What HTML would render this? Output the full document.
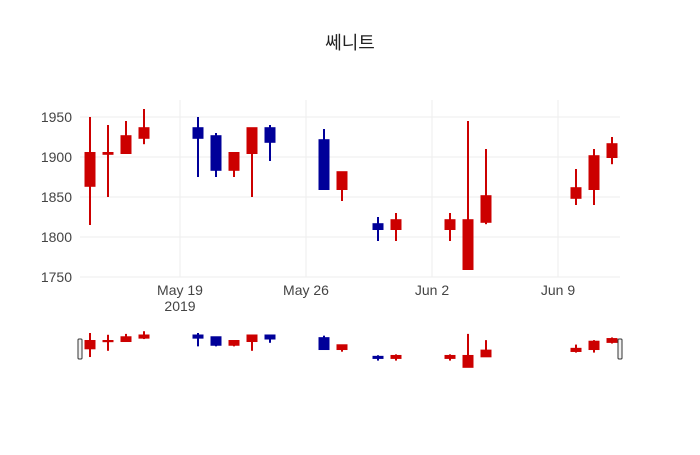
<!DOCTYPE html>
<html><head><meta charset="utf-8"><style>
body{margin:0;background:#fff;font-family:"Liberation Sans","Noto Sans CJK KR",sans-serif;}
svg text{font-family:"Liberation Sans","Noto Sans CJK KR",sans-serif;}
</style></head><body>
<svg id="chart" width="700" height="450" xmlns="http://www.w3.org/2000/svg">
<rect width="700" height="450" fill="#fff"/>
<text x="350" y="49" text-anchor="middle" font-size="18" fill="#222">쎄니트</text>
<g id="grid"></g><g id="axes"></g><g id="marks"></g><g id="slider"></g>
</svg>
<script>
const dates=["2019-05-14","2019-05-15","2019-05-16","2019-05-17","2019-05-20","2019-05-21","2019-05-22","2019-05-23","2019-05-24","2019-05-27","2019-05-28","2019-05-30","2019-05-31","2019-06-03","2019-06-04","2019-06-05","2019-06-10","2019-06-11","2019-06-12"];
const openV=[1864,1904,1905,1924,1936,1926,1884,1905,1936,1921,1860,1816,1810,1810,1760,1819,1849,1860,1900];
const closeV=[1905,1905,1926,1936,1924,1884,1905,1936,1919,1860,1881,1810,1821,1821,1821,1851,1861,1901,1916];
const highV=[1950,1940,1945,1960,1950,1930,1905,1936,1940,1935,1881,1825,1830,1830,1945,1910,1885,1910,1925];
const lowV=[1815,1850,1905,1916,1875,1875,1875,1850,1895,1860,1845,1795,1795,1795,1760,1816,1840,1840,1891];
const yTicks=[1750,1800,1850,1900,1950];
const xTickDates=["2019-05-19","2019-05-26","2019-06-02","2019-06-09"];
const xTickLabels=["May 19","May 26","Jun 2","Jun 9"];
const NS="http://www.w3.org/2000/svg";
const DAY=86400000, t0=Date.UTC(2019,4,19);
function x(d){const t=Date.parse(d+"T00:00:00Z");return 180+(t-t0)/DAY*18;}
function y(v){return 277-(v-1750)*0.8;}
function ys(v){return 333-(v-1950)*0.178;}
function mk(tag,attrs,parent){const e=document.createElementNS(NS,tag);for(const k in attrs)e.setAttribute(k,attrs[k]);document.getElementById(parent).appendChild(e);return e;}
yTicks.forEach(v=>{
 const l=mk("line",{x1:80,x2:620,y1:y(v),y2:y(v),stroke:"#eee","stroke-width":1},"grid");
 
 
 const t=mk("text",{x:72,y:y(v)+5,"text-anchor":"end","font-size":"14",fill:"#444"},"axes");
 t.textContent=v;
 
 
});
xTickDates.forEach((d,i)=>{
 const l=mk("line",{x1:x(d),x2:x(d),y1:100,y2:277,stroke:"#eee","stroke-width":1},"grid");
 
 
 const t=mk("text",{x:x(d),y:295,"text-anchor":"middle","font-size":"14",fill:"#444"},"axes");
 t.textContent=xTickLabels[i];
 
 
});
const yr=mk("text",{x:x(xTickDates[0]),y:311,"text-anchor":"middle","font-size":"14",fill:"#444"},"axes");
yr.textContent="2019";


function candle(i,fy,parent,name){
 const cx=x(dates[i]);const col=closeV[i]>=openV[i]?"#cc0000":"#000099";
 const w=mk("line",{x1:cx,x2:cx,y1:fy(highV[i]),y2:fy(lowV[i]),stroke:col,"stroke-width":2},parent);
 
 
 const top=fy(Math.max(openV[i],closeV[i])),bot=fy(Math.min(openV[i],closeV[i]));
 const b=mk("rect",{x:cx-5.5,y:top-1,width:11,height:Math.max(bot-top,0)+2,fill:col},parent);
 
 
}
dates.forEach((d,i)=>{candle(i,y,"marks","candle");candle(i,ys,"slider","slider-candle");});
[80,620].forEach(hx=>{
 const h=mk("rect",{x:hx-2,y:339,width:4,height:20,rx:1,fill:"#f2f2f2",stroke:"#333","stroke-width":1},"slider");
 
 
});
</script>
</body></html>
